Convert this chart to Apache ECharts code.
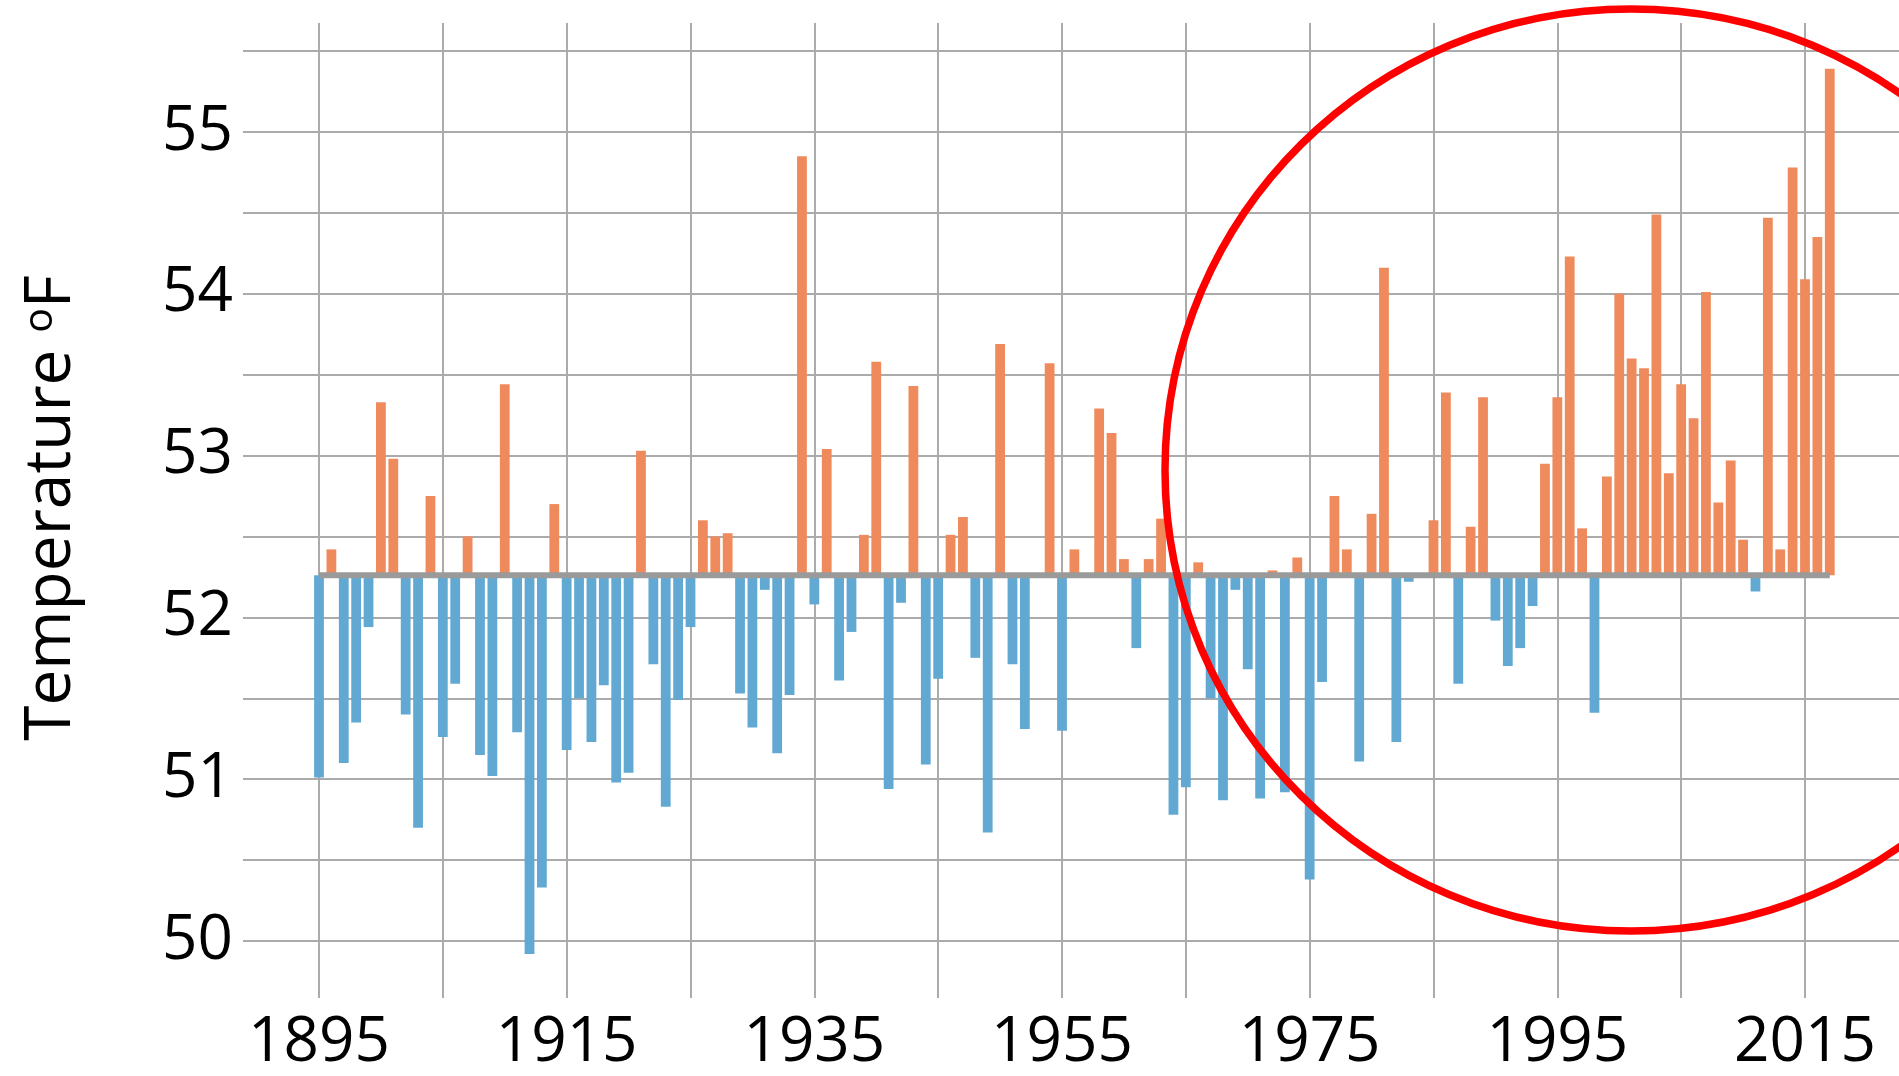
<!DOCTYPE html>
<html>
<head>
<meta charset="utf-8">
<script src="https://cdn.jsdelivr.net/npm/echarts@6/dist/echarts.min.js"></script>
<style>
html,body{margin:0;padding:0;background:#ffffff;}
#chart{width:1899px;height:1076px;}
</style>
</head>
<body>
<div id="chart"></div>
<script>
// ---- data ----
const years = [
  1895,1896,1897,1898,1899,1900,1901,1902,1903,1904,1905,1906,1907,1908,1909,
  1910,1911,1912,1913,1914,1915,1916,1917,1918,1919,1920,1921,1922,1923,1924,
  1925,1926,1927,1928,1929,1930,1931,1932,1933,1934,1935,1936,1937,1938,1939,
  1940,1941,1942,1943,1944,1945,1946,1947,1948,1949,1950,1951,1952,1953,1954,
  1955,1956,1957,1958,1959,1960,1961,1962,1963,1964,1965,1966,1967,1968,1969,
  1970,1971,1972,1973,1974,1975,1976,1977,1978,1979,1980,1981,1982,1983,1984,
  1985,1986,1987,1988,1989,1990,1991,1992,1993,1994,1995,1996,1997,1998,1999,
  2000,2001,2002,2003,2004,2005,2006,2007,2008,2009,2010,2011,2012,2013,2014,
  2015,2016,2017
];
const temps = [
  51.01,52.42,51.10,51.35,51.94,53.33,52.98,51.40,50.70,52.75,51.26,51.59,52.50,51.15,51.02,
  53.44,51.29,49.92,50.33,52.70,51.18,51.50,51.23,51.58,50.98,51.04,53.03,51.71,50.83,51.49,
  51.94,52.60,52.50,52.52,51.53,51.32,52.17,51.16,51.52,54.85,52.08,53.04,51.61,51.91,52.51,
  53.58,50.94,52.09,53.43,51.09,51.62,52.51,52.62,51.75,50.67,53.69,51.71,51.31,52.27,53.57,
  51.30,52.42,52.26,53.29,53.14,52.36,51.81,52.36,52.61,50.78,50.95,52.34,51.50,50.87,52.17,
  51.68,50.88,52.29,50.92,52.37,50.38,51.60,52.75,52.42,51.11,52.64,54.16,51.23,52.22,52.26,
  52.60,53.39,51.59,52.56,53.36,51.98,51.70,51.81,52.07,52.95,53.36,54.23,52.55,51.41,52.87,
  54.00,53.60,53.54,54.49,52.89,53.44,53.23,54.01,52.71,52.97,52.48,52.16,54.47,52.42,54.78,
  54.09,54.35,55.39
];
const BASE = 52.26;                       // reference (average) level the bars start from
const yTickLabels = [50, 51, 52, 53, 54, 55];
const xTickLabels = [1895, 1915, 1935, 1955, 1975, 1995, 2015];
const yTitle = 'Temperature {sup|o}F';

// ---- layout / style constants ----
const FONT = 'Open Sans';
const ORANGE = '#EF8A5C';
const BLUE = '#61A9D3';
const GRID_COLOR = '#ABABAB';
const X0_PX = 319, X1_PX = 1805;           // pixel positions of 1895 and 2015
const PX_YR = (X1_PX - X0_PX) / 120;
const xMinA = 1895 - (X0_PX - 243) / PX_YR;
const xMax = 1895 + (1899 - X0_PX) / PX_YR;

const chart = echarts.init(document.getElementById('chart'), null, {renderer: 'canvas'});

const barData = years.map((y, i) => [y, temps[i]]);
const baseData = years.map(y => [y, BASE]);

const option = {
  animation: false,
  backgroundColor: '#ffffff',
  grid: [
    {left: 243, right: 0, top: 51, height: 890, outerBoundsMode: 'none', containLabel: false},
    {left: X0_PX, right: 0, top: 23, height: 975, outerBoundsMode: 'none', containLabel: false}
  ],
  xAxis: [
    {gridIndex: 0, type: 'value', min: xMinA, max: xMax, show: false},
    {
      gridIndex: 1, type: 'value', min: 1895, max: xMax, interval: 10,
      axisLine: {show: false}, axisTick: {show: false},
      splitLine: {show: true, showMaxLine: false, lineStyle: {color: GRID_COLOR, width: 2}},
      axisLabel: {
        margin: 14, fontSize: 62, fontFamily: FONT, color: '#000',
        showMaxLabel: false,
        formatter: v => {
          const r = Math.round(v);
          return (Math.abs(v - r) < 1e-6 && xTickLabels.indexOf(r) >= 0) ? String(r) : '';
        }
      }
    }
  ],
  yAxis: [
    {
      gridIndex: 0, type: 'value', min: 50, max: 55.5, interval: 0.5,
      axisLine: {show: false}, axisTick: {show: false},
      splitLine: {show: true, lineStyle: {color: GRID_COLOR, width: 2}},
      axisLabel: {
        margin: 10, fontSize: 62, fontFamily: FONT, color: '#000',
        formatter: v => {
          const r = Math.round(v);
          return (Math.abs(v - r) < 1e-6 && yTickLabels.indexOf(r) >= 0) ? String(r) : '';
        }
      }
    },
    {gridIndex: 1, type: 'value', min: 0, max: 1, show: false}
  ],
  series: [
    {
      type: 'custom',
      xAxisIndex: 0, yAxisIndex: 0,
      data: barData,
      z: 2,
      renderItem: (params, api) => {
        const x = api.value(0), v = api.value(1);
        const p0 = api.coord([x, BASE]);
        const p1 = api.coord([x, v]);
        const w = api.size([0.79, 0])[0];
        return {
          type: 'rect',
          shape: {x: p0[0] - w / 2, y: Math.min(p0[1], p1[1]), width: w, height: Math.abs(p1[1] - p0[1])},
          style: {fill: v >= BASE ? ORANGE : BLUE}
        };
      }
    },
    {
      type: 'line',
      xAxisIndex: 0, yAxisIndex: 0,
      data: baseData,
      symbol: 'none',
      z: 3,
      lineStyle: {color: '#9A9A9A', width: 6},
      silent: true
    }
  ],
  graphic: [
    {
      type: 'text', x: 52, y: 508, rotation: Math.PI / 2, z: 50,
      style: {
        text: yTitle, fontSize: 64, fontFamily: FONT, fill: '#000',
        align: 'center', verticalAlign: 'middle',
        rich: {sup: {fontSize: 41, fontFamily: FONT, fill: '#000', verticalAlign: 'top'}}
      }
    },
    {
      type: 'ellipse', z: 100,
      shape: {cx: 1631, cy: 470, rx: 466, ry: 461},
      style: {fill: 'none', stroke: '#FF0000', lineWidth: 7.5}
    }
  ]
};
chart.setOption(option);
</script>
</body>
</html>
